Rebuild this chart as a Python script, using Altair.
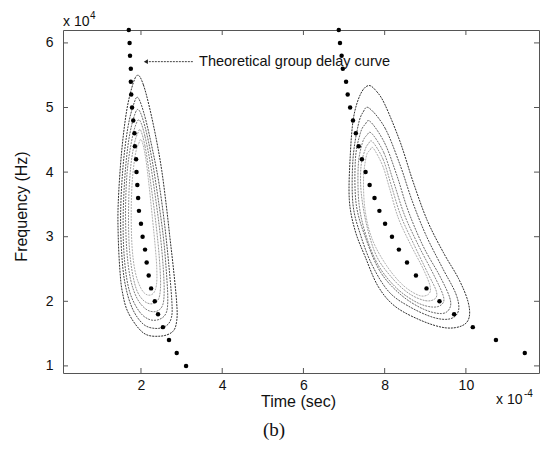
import altair as alt
import pandas as pd

# ---- theoretical group delay curves (time x1e-4 s, frequency x1e4 Hz) ----
left_freq = [6.2, 6.0, 5.8, 5.6, 5.4, 5.2, 5.0, 4.8, 4.6, 4.4, 4.2, 4.0, 3.8, 3.6,
             3.4, 3.2, 3.0, 2.8, 2.6, 2.4, 2.2, 2.0, 1.8, 1.6, 1.4, 1.2, 1.0]
left_time = [1.70, 1.72, 1.73, 1.75, 1.75, 1.76, 1.78, 1.81, 1.84, 1.85, 1.88, 1.89, 1.91, 1.93,
             1.95, 2.00, 2.04, 2.10, 2.14, 2.19, 2.25, 2.34, 2.42, 2.54, 2.69, 2.88, 3.11]
right_freq = [6.2, 6.0, 5.8, 5.6, 5.4, 5.2, 5.0, 4.8, 4.6, 4.4, 4.2, 4.0, 3.8, 3.6,
              3.4, 3.2, 3.0, 2.8, 2.6, 2.4, 2.2, 2.0, 1.8, 1.6, 1.4, 1.2]
right_time = [6.87, 6.90, 6.94, 6.97, 7.05, 7.09, 7.15, 7.22, 7.29, 7.36, 7.44, 7.53, 7.63, 7.75,
              7.87, 8.01, 8.18, 8.35, 8.55, 8.77, 9.03, 9.35, 9.71, 10.17, 10.74, 11.45]

# ---- contour lines (time, frequency) ----
L1 = [(1.93, 5.50), (2.06, 5.35), (2.21, 5.00), (2.38, 4.50), (2.51, 4.03), (2.62, 3.50), (2.71, 3.00),
      (2.80, 2.50), (2.88, 1.97), (2.88, 1.70), (2.78, 1.53), (2.47, 1.46), (2.06, 1.51), (1.69, 1.82),
      (1.54, 2.15), (1.48, 2.49), (1.44, 3.00), (1.44, 3.52), (1.52, 4.29), (1.65, 4.96), (1.81, 5.38)]
L2 = [(1.93, 5.15), (2.10, 4.85), (2.30, 4.30), (2.45, 3.80), (2.58, 3.20), (2.68, 2.60), (2.76, 2.00),
      (2.75, 1.75), (2.62, 1.62), (2.35, 1.58), (2.05, 1.65), (1.78, 1.90), (1.60, 2.30), (1.52, 2.80),
      (1.50, 3.40), (1.56, 4.10), (1.68, 4.70), (1.82, 5.05)]
L3 = [(1.95, 4.96), (2.10, 4.70), (2.27, 4.20), (2.42, 3.60), (2.55, 3.00), (2.62, 2.50), (2.66, 2.05),
      (2.62, 1.82), (2.45, 1.72), (2.20, 1.72), (1.95, 1.85), (1.72, 2.15), (1.60, 2.60), (1.56, 3.20),
      (1.60, 3.90), (1.70, 4.50), (1.84, 4.88)]
L4 = [(1.97, 4.80), (2.10, 4.55), (2.24, 4.10), (2.38, 3.50), (2.48, 3.00), (2.55, 2.50), (2.57, 2.12),
      (2.52, 1.92), (2.35, 1.84), (2.12, 1.88), (1.90, 2.05), (1.74, 2.35), (1.65, 2.80), (1.62, 3.40),
      (1.66, 4.00), (1.76, 4.45), (1.87, 4.73)]
L5 = [(1.99, 4.65), (2.10, 4.40), (2.20, 4.00), (2.33, 3.40), (2.42, 2.90), (2.47, 2.50), (2.48, 2.20),
      (2.42, 2.02), (2.25, 1.96), (2.05, 2.02), (1.88, 2.20), (1.76, 2.55), (1.70, 3.00), (1.70, 3.60),
      (1.75, 4.10), (1.84, 4.45), (1.92, 4.60)]
L6 = [(2.01, 4.50), (2.10, 4.28), (2.18, 3.90), (2.28, 3.30), (2.35, 2.85), (2.39, 2.50), (2.38, 2.25),
      (2.30, 2.12), (2.15, 2.10), (2.00, 2.20), (1.86, 2.45), (1.78, 2.85), (1.76, 3.40), (1.79, 3.90),
      (1.87, 4.30), (1.95, 4.45)]

R1 = [(7.60, 5.34), (7.80, 5.25), (8.01, 5.04), (8.38, 4.47), (8.70, 3.85), (9.05, 3.25), (9.45, 2.75),
      (9.82, 2.35), (10.05, 2.00), (10.08, 1.75), (9.90, 1.62), (9.49, 1.59), (8.91, 1.70), (8.26, 1.92),
      (7.84, 2.23), (7.52, 2.69), (7.27, 3.10), (7.13, 3.57), (7.15, 4.22), (7.23, 4.83), (7.40, 5.20)]
R2 = [(7.62, 4.99), (8.01, 4.68), (8.38, 4.11), (8.68, 3.55), (9.02, 3.02), (9.42, 2.52), (9.75, 2.12),
      (9.82, 1.86), (9.62, 1.73), (9.20, 1.75), (8.60, 1.92), (8.10, 2.15), (7.70, 2.55), (7.42, 3.00),
      (7.22, 3.50), (7.22, 4.20), (7.35, 4.73), (7.47, 4.93)]
R3 = [(7.65, 4.78), (8.00, 4.45), (8.30, 3.95), (8.58, 3.40), (8.95, 2.85), (9.35, 2.40), (9.60, 2.06),
      (9.60, 1.89), (9.40, 1.81), (8.95, 1.88), (8.40, 2.10), (7.90, 2.45), (7.55, 2.95), (7.30, 3.50),
      (7.28, 4.20), (7.40, 4.60), (7.52, 4.74)]
R4 = [(7.68, 4.60), (7.98, 4.30), (8.22, 3.85), (8.48, 3.35), (8.82, 2.88), (9.20, 2.42), (9.44, 2.09),
      (9.42, 1.96), (9.20, 1.91), (8.80, 1.98), (8.30, 2.20), (7.85, 2.55), (7.55, 3.00), (7.37, 3.50),
      (7.35, 4.10), (7.45, 4.45), (7.56, 4.57)]
R5 = [(7.70, 4.47), (7.96, 4.20), (8.16, 3.80), (8.40, 3.32), (8.72, 2.88), (9.05, 2.45), (9.27, 2.16),
      (9.24, 2.04), (9.00, 2.01), (8.60, 2.12), (8.20, 2.35), (7.80, 2.70), (7.55, 3.20), (7.42, 3.70),
      (7.42, 4.10), (7.52, 4.35), (7.60, 4.44)]
R6 = [(7.72, 4.37), (7.95, 4.10), (8.12, 3.75), (8.33, 3.30), (8.62, 2.90), (8.95, 2.50), (9.12, 2.23),
      (9.08, 2.11), (8.85, 2.09), (8.45, 2.25), (8.05, 2.55), (7.70, 2.95), (7.52, 3.40), (7.48, 3.90),
      (7.55, 4.25), (7.64, 4.34)]

contour_sets = [("L1", 1, L1), ("L2", 2, L2), ("L3", 3, L3), ("L4", 4, L4), ("L5", 5, L5), ("L6", 6, L6),
                ("R1", 1, R1), ("R2", 2, R2), ("R3", 3, R3), ("R4", 4, R4), ("R5", 5, R5), ("R6", 6, R6)]
level_grays = ["#2e2e2e", "#4a4a4a", "#666666", "#808080", "#999999", "#b0b0b0"]

x_ticks = [2, 4, 6, 8, 10]
y_ticks = [1, 2, 3, 4, 5, 6]

annot_text = "Theoretical group delay curve"
annot_f = 5.71
annot_t0, annot_t1, annot_text_t = 2.12, 3.28, 3.43

W, H = 476, 343
X_DOM = [0.08, 11.8]
Y_DOM = [0.89, 6.2]

# ---- build tables ----
rows = []
for cid, lvl, pts in contour_sets:
    for i, (t, f) in enumerate(pts):
        rows.append({"cid": cid, "level": lvl, "i": i, "t": t, "f": f})
cdf = pd.DataFrame(rows)

ddf = pd.DataFrame({"t": left_time + right_time, "f": left_freq + right_freq})

xs = alt.Scale(domain=X_DOM, nice=False, zero=False)
ys = alt.Scale(domain=Y_DOM, nice=False, zero=False)

FONT = "Liberation Sans"
xax = alt.Axis(values=x_ticks, labelFontSize=14, labelPadding=5, ticks=False, tickSize=0,
               domain=False, grid=False, labelColor="#111", labelFont=FONT,
               title="Time (sec)", titleFont=FONT, titleFontSize=16,
               titleFontWeight="normal", titleColor="#111", titleX=235, titleY=28,
               titleAlign="center", titleBaseline="middle", labelFlush=False)
yax = alt.Axis(values=y_ticks, labelFontSize=14, labelPadding=10, ticks=False, tickSize=0,
               domain=False, grid=False, labelColor="#111", labelFont=FONT, format="d",
               title="Frequency (Hz)", titleFont=FONT, titleFontSize=16,
               titleFontWeight="normal", titleColor="#111", titleX=-42, titleY=176,
               titleAlign="center", titleBaseline="middle", labelFlush=False)

contours = alt.Chart(cdf).mark_line(interpolate="cardinal-closed", strokeWidth=1,
                                    strokeDash=[2, 1]).encode(
    x=alt.X("t:Q", scale=xs, axis=xax),
    y=alt.Y("f:Q", scale=ys, axis=yax),
    detail="cid:N",
    order="i:Q",
    color=alt.Color("level:O", scale=alt.Scale(domain=[1, 2, 3, 4, 5, 6], range=level_grays), legend=None),
)

dots = alt.Chart(ddf).mark_circle(size=20, color="#000", opacity=1).encode(
    x=alt.X("t:Q", scale=xs), y=alt.Y("f:Q", scale=ys))

xt = pd.DataFrame({"v": x_ticks})
yt = pd.DataFrame({"v": y_ticks})
tick_col = "#555"
xt_bot = alt.Chart(xt).mark_rule(color=tick_col, strokeWidth=1).encode(
    x=alt.X("v:Q", scale=xs), y=alt.value(H), y2=alt.value(H - 5))
xt_top = alt.Chart(xt).mark_rule(color=tick_col, strokeWidth=1).encode(
    x=alt.X("v:Q", scale=xs), y=alt.value(0), y2=alt.value(5))
yt_left = alt.Chart(yt).mark_rule(color=tick_col, strokeWidth=1).encode(
    y=alt.Y("v:Q", scale=ys), x=alt.value(0), x2=alt.value(5))
yt_right = alt.Chart(yt).mark_rule(color=tick_col, strokeWidth=1).encode(
    y=alt.Y("v:Q", scale=ys), x=alt.value(W), x2=alt.value(W - 5))

adf = pd.DataFrame({"t0": [annot_t0], "t1": [annot_t1], "tt": [annot_text_t], "f": [annot_f], "s": [annot_text]})
arrow_line = alt.Chart(adf).mark_rule(color="#444", strokeWidth=1, strokeDash=[2, 1]).encode(
    x=alt.X("t0:Q", scale=xs), x2="t1:Q", y=alt.Y("f:Q", scale=ys))
arrow_head = alt.Chart(adf).mark_point(shape="triangle-left", filled=True, size=22, color="#222", opacity=1).encode(
    x=alt.X("t0:Q", scale=xs), y=alt.Y("f:Q", scale=ys))
arrow_text = alt.Chart(adf).mark_text(align="left", baseline="middle", font=FONT,
                                      fontSize=14.5, color="#111").encode(
    x=alt.X("tt:Q", scale=xs), y=alt.Y("f:Q", scale=ys), text="s:N")

def label(txt, px, py, size, font=FONT, align="left"):
    return alt.Chart(pd.DataFrame({"s": [txt]})).mark_text(
        align=align, baseline="middle", font=font, fontSize=size, color="#111").encode(
        x=alt.value(px), y=alt.value(py), text="s:N")

exp_top = label("x 10", 0, -8, 14) + label("4", 27, -14, 10)
exp_bot = label("x 10", 433, 370, 14) + label("-4", 461, 364, 10)
caption = label("(b)", 211, 400, 19, font="Liberation Serif", align="center")

chart = alt.layer(contours, dots, xt_bot, xt_top, yt_left, yt_right,
                  arrow_line, arrow_head, arrow_text, exp_top, exp_bot, caption).properties(
    width=W, height=H,
    autosize=alt.AutoSizeParams(type="none"),
    padding={"left": 63, "top": 30, "right": 2, "bottom": 77},
    background="white",
).configure_view(stroke="#555", strokeWidth=1)

chart.save("out.html", embed_options={"renderer": "svg", "actions": False})
